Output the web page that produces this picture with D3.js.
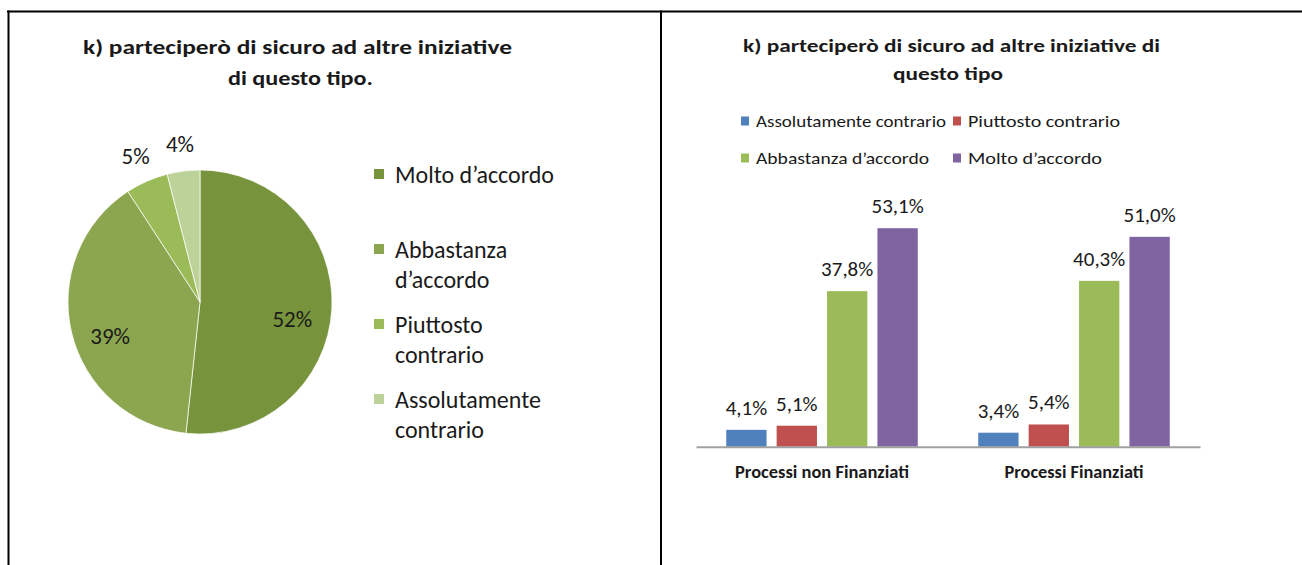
<!DOCTYPE html>
<html>
<head>
<meta charset="utf-8">
<script src="https://cdn.jsdelivr.net/npm/d3@7"></script>
<style>
  html, body { margin: 0; padding: 0; background: #fff; }
  svg { display: block; }
  text { font-family: Carlito, Calibri, "Liberation Sans", Arial, sans-serif; fill: #1a1a1a; }
</style>
</head>
<body>
<svg id="chart" width="1302" height="565"></svg>
<script>
// ---------- DATA ----------
const pieTitle = ["k) parteciperò di sicuro ad altre iniziative", "di questo tipo."];
const pieCategories = ["Molto d’accordo", "Abbastanza d’accordo", "Piuttosto contrario", "Assolutamente contrario"];
const pieLegendLines = [["Molto d’accordo"], ["Abbastanza", "d’accordo"], ["Piuttosto", "contrario"], ["Assolutamente", "contrario"]];
const pieValues = [51.7, 39.1, 5.2, 4.0];
const pieColors = ["#77933c", "#8ba64f", "#9bbb59", "#bdd299"];

const barTitle = ["k) parteciperò di sicuro ad altre iniziative di", "questo tipo"];
const barGroups = ["Processi non Finanziati", "Processi Finanziati"];
const barSeries = ["Assolutamente contrario", "Piuttosto contrario", "Abbastanza d’accordo", "Molto d’accordo"];
const assolutamenteContrario = [4.1, 3.4];
const piuttostoContrario = [5.1, 5.4];
const abbastanzaAccordo = [37.8, 40.3];
const moltoAccordo = [53.1, 51.0];
const barColors = ["#4f81bd", "#c0504d", "#9bbb59", "#8064a2"];

// ---------- SETUP ----------
const svg = d3.select("#chart");
const fmtComma = v => v.toFixed(1).replace(".", ",") + "%";

// table borders
svg.append("line").attr("x1", 7).attr("x2", 1302).attr("y1", 11.5).attr("y2", 11.5)
  .attr("stroke", "#000").attr("stroke-width", 2);
svg.append("line").attr("x1", 8.5).attr("x2", 8.5).attr("y1", 10.5).attr("y2", 565)
  .attr("stroke", "#000").attr("stroke-width", 2);
svg.append("line").attr("x1", 661).attr("x2", 661).attr("y1", 10.5).attr("y2", 565)
  .attr("stroke", "#000").attr("stroke-width", 2);

// ---------- PIE CHART ----------
const pt = svg.append("g");
pt.append("text").attr("x", 297.5).attr("y", 54).attr("text-anchor", "middle")
  .attr("font-size", 20).attr("font-weight", "bold")
  .attr("textLength", 429).attr("lengthAdjust", "spacingAndGlyphs").text(pieTitle[0]);
pt.append("text").attr("x", 300.5).attr("y", 85).attr("text-anchor", "middle")
  .attr("font-size", 20).attr("font-weight", "bold")
  .attr("textLength", 145).attr("lengthAdjust", "spacingAndGlyphs").text(pieTitle[1]);

const R = 132;
const pieG = svg.append("g").attr("transform", "translate(200,302)");
const pie = d3.pie().sort(null).value(d => d);
const arcs = pie(pieValues);
const arc = d3.arc().innerRadius(0).outerRadius(R);
pieG.selectAll("path.slice").data(arcs).join("path")
  .attr("class", "slice")
  .attr("d", arc)
  .attr("fill", (d, i) => pieColors[i])
  .attr("stroke", "#ffffff").attr("stroke-width", 1).attr("stroke-opacity", 0.7);

const inArc = d3.arc().innerRadius(R * 0.7).outerRadius(R * 0.7);
const outArc = d3.arc().innerRadius(R * 1.21).outerRadius(R * 1.21);
pieG.selectAll("text.plabel").data(arcs).join("text")
  .attr("class", "plabel")
  .attr("transform", (d, i) => {
    const c = (i < 2 ? inArc : outArc).centroid(d);
    return `translate(${c[0]},${c[1] + (i < 2 ? 12 : 0)})`;
  })
  .attr("text-anchor", "middle").attr("dy", "0.36em")
  .attr("font-size", 23)
  .text(d => Math.round(d.value) + "%");

// pie legend
const legY = [174, 249, 324, 399];
const pl = svg.append("g");
pieLegendLines.forEach((lines, i) => {
  pl.append("rect").attr("x", 374).attr("y", legY[i] - 5).attr("width", 10).attr("height", 10)
    .attr("fill", pieColors[i]);
  lines.forEach((ln, j) => {
    pl.append("text").attr("x", 395).attr("y", legY[i] + j * 30).attr("dy", "0.36em")
      .attr("font-size", 24).text(ln);
  });
});

// ---------- BAR CHART ----------
const bt = svg.append("g");
bt.append("text").attr("x", 951.5).attr("y", 52).attr("text-anchor", "middle")
  .attr("font-size", 19).attr("font-weight", "bold")
  .attr("textLength", 417).attr("lengthAdjust", "spacingAndGlyphs").text(barTitle[0]);
bt.append("text").attr("x", 948).attr("y", 80).attr("text-anchor", "middle")
  .attr("font-size", 19).attr("font-weight", "bold")
  .attr("textLength", 110).attr("lengthAdjust", "spacingAndGlyphs").text(barTitle[1]);

// bar legend
const blX = [741, 953];
const blTextLen = [190, 152, 173, 134];
barSeries.forEach((s, i) => {
  const col = i % 2, row = Math.floor(i / 2);
  const yy = 121 + row * 37;
  svg.append("rect").attr("x", blX[col]).attr("y", yy - 4.5).attr("width", 8).attr("height", 9)
    .attr("fill", barColors[i]);
  svg.append("text").attr("x", blX[col] + 15).attr("y", yy).attr("dy", "0.36em")
    .attr("font-size", 17).attr("textLength", blTextLen[i]).attr("lengthAdjust", "spacingAndGlyphs")
    .text(s);
});

const seriesValues = [assolutamenteContrario, piuttostoContrario, abbastanzaAccordo, moltoAccordo];
const x0 = d3.scaleBand().domain(barGroups).range([696, 1200]).paddingInner(0).paddingOuter(0);
const x1 = d3.scaleBand().domain(barSeries).range([0, x0.bandwidth()]).paddingInner(0.2).paddingOuter(0.6);
const y = d3.scaleLinear().domain([0, 60]).range([446.7, 199.8]);

const groups = svg.append("g").selectAll("g").data(barGroups).join("g")
  .attr("transform", d => `translate(${x0(d)},0)`);
groups.selectAll("rect").data((g, gi) => barSeries.map((s, si) => ({ s, si, v: seriesValues[si][gi] })))
  .join("rect")
  .attr("x", d => x1(d.s))
  .attr("width", x1.bandwidth())
  .attr("y", d => y(d.v))
  .attr("height", d => y(0) - y(d.v))
  .attr("fill", d => barColors[d.si]);
groups.selectAll("text.vl").data((g, gi) => barSeries.map((s, si) => ({ s, si, v: seriesValues[si][gi] })))
  .join("text")
  .attr("class", "vl")
  .attr("x", d => x1(d.s) + x1.bandwidth() / 2)
  .attr("y", d => y(d.v) - 15)
  .attr("text-anchor", "middle")
  .attr("font-size", 21)
  .text(d => fmtComma(d.v));

// x axis
const xAxis = d3.axisBottom(x0).tickSize(0).tickPadding(0);
const ax = svg.append("g").attr("transform", `translate(0,${y(0)})`).call(xAxis);
ax.select(".domain").attr("stroke", "#a0a0a0").attr("stroke-width", 2);
ax.selectAll(".tick text")
  .attr("y", 25).attr("dy", "0.36em")
  .attr("font-size", 17).attr("font-weight", "bold")
  .attr("font-family", "Carlito, Calibri, 'Liberation Sans', Arial, sans-serif")
  .attr("fill", "#1a1a1a")
  .attr("textLength", (d, i) => [174, 139][i]).attr("lengthAdjust", "spacingAndGlyphs");
</script>
</body>
</html>
